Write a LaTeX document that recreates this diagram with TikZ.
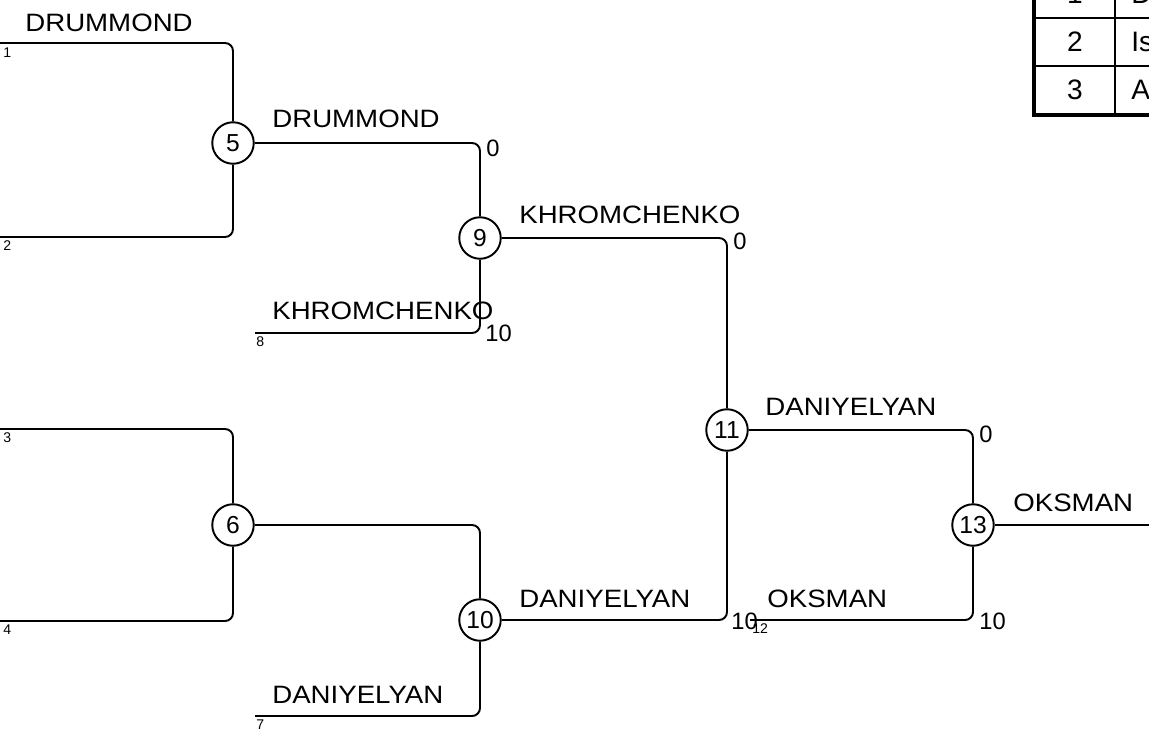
\documentclass[tikz,border=0pt]{standalone}
\usepackage{fontspec}
\setmainfont{Liberation Sans}
\newfontfamily\widesans[FakeStretch=1.1]{Liberation Sans}
\usetikzlibrary{positioning,calc}

\tikzset{
    bout/.style={circle,draw,line width=1.1pt,minimum size=0.83cm,inner sep=0pt,font=\fontsize{14}{16}\selectfont},
    wire/.style={line width=1.1pt,rounded corners=0.16cm},
    fencer/.style={anchor=base west,inner sep=0pt,font=\widesans\fontsize{14.3}{16}\selectfont},
    seed/.style={anchor=north west,inner sep=0pt,font=\fontsize{8}{9}\selectfont},
    score/.style={anchor=west,inner sep=0pt,font=\fontsize{13.5}{16}\selectfont},
    cell/.style={inner sep=0pt,font=\fontsize{16}{18}\selectfont},
}

\begin{document}
\begin{tikzpicture}[x=0.02cm,y=-0.02cm]
    \useasboundingbox (0,0) rectangle (1149,728);
    % entry lines
    \coordinate (S1) at (0,43);
    \coordinate (S2) at (0,237);
    \coordinate (S3) at (0,429);
    \coordinate (S4) at (0,621);
    \coordinate (S8) at (255,333);
    \coordinate (S7) at (255,716);
    \coordinate (S12) at (750,620);
    \coordinate (W) at (1149,525);
    % bouts
    \node[bout] (B5) at (233,143) {5};
    \node[bout] (B6) at (233,525) {6};
    \node[bout] (B9) at (480,238) {9};
    \node[bout] (B10) at (480,620) {10};
    \node[bout] (B11) at (727,430) {11};
    \node[bout] (B13) at (973,525) {13};
    % connections
    \draw[wire] (S1) -| (B5);
    \draw[wire] (S2) -| (B5);
    \draw[wire] (S3) -| (B6);
    \draw[wire] (S4) -| (B6);
    \draw[wire] (B5) -| (B9);
    \draw[wire] (S8) -| (B9);
    \draw[wire] (B6) -| (B10);
    \draw[wire] (S7) -| (B10);
    \draw[wire] (B9) -| (B11);
    \draw[wire] (B10) -| (B11);
    \draw[wire] (B11) -| (B13);
    \draw[wire] (S12) -| (B13);
    \draw[wire] (B13) -- (W);
    % names
    \node[fencer] (n1) at (25,31) {DRUMMOND};
    \node[fencer] (n5) at (272,127) {DRUMMOND};
    \node[fencer] (n8) at (272,319) {KHROMCHENKO};
    \node[fencer] (n9) at (519,223) {KHROMCHENKO};
    \node[fencer] (n7) at (272,703) {DANIYELYAN};
    \node[fencer] (n10) at (519,607) {DANIYELYAN};
    \node[fencer] (n11) at (765,415) {DANIYELYAN};
    \node[fencer] (n12) at (767,607) {OKSMAN};
    \node[fencer] (n13) at (1013,511) {OKSMAN};
    % seeds
    \node[seed] (s1) at (3,47) {1};
    \node[seed] (s2) at (3,240) {2};
    \node[seed] (s3) at (3,432) {3};
    \node[seed] (s4) at (3,624) {4};
    \node[seed] (s8) at (256,336) {8};
    \node[seed] (s7) at (256,719) {7};
    \node[seed] (s12) at (752,623) {12};
    % scores
    \node[score,anchor=north west] (p5) at (486,140) {0};
    \node[score] (p8) at (485,333) {10};
    \node[score,anchor=north west] (p9) at (733,233) {0};
    \node[score] (p10) at (731,621) {10};
    \node[score,anchor=north west] (p11) at (979,426) {0};
    \node[score] (p12) at (979,621) {10};
    % standings
    \draw[line width=1.1pt] (1115,-40) -- (1115,115);
    \draw[line width=1.1pt] (1033,18) -- (1170,18);
    \draw[line width=1.1pt] (1033,66) -- (1170,66);
    \draw[line width=2.3pt] (1034,-40) -- (1034,115) -- (1170,115);
    \node[cell] (r1) at (1075,-6) {1};
    \node[cell] (r2) at (1075,42) {2};
    \node[cell] (r3) at (1075,90) {3};
    \node[cell,anchor=west] (t1) at (1131,-6) {D};
    \node[cell,anchor=west] (t2) at (1131,42) {Is};
    \node[cell,anchor=west] (t3) at (1131,90) {A};
\end{tikzpicture}
\end{document}
